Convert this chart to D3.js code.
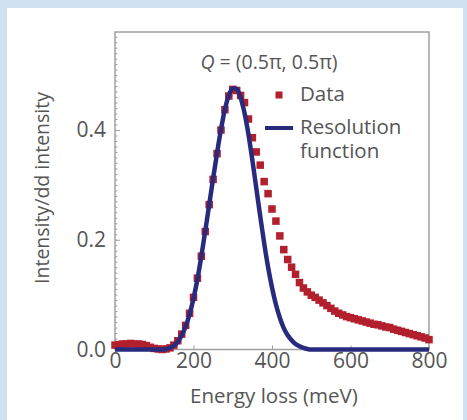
<!DOCTYPE html>
<html>
<head>
<meta charset="utf-8">
<script src="https://cdn.jsdelivr.net/npm/d3@7"></script>
<style>
  html, body { margin: 0; padding: 0; background: #cfe0f0; }
  svg { display: block; }
  text { font-family: "Open Sans", "DejaVu Sans", sans-serif; fill: #555; }
</style>
</head>
<body>
<svg id="chart" width="467" height="420"></svg>
<script>
// ---------------- data ----------------
const energy = [0,10,20,30,40,50,60,70,80,90,100,110,120,130,140,150,160,170,180,190,
  200,210,220,230,240,250,260,270,280,290,300,310,320,330,340,350,360,370,380,390,
  400,410,420,430,440,450,460,470,480,490,500,510,520,530,540,550,560,570,580,590,
  600,610,620,630,640,650,660,670,680,690,700,710,720,730,740,750,760,770,780,790,800];

const dataIntensity = [0.008,0.009,0.010,0.010,0.011,0.010,0.010,0.009,0.007,0.004,
  0.002,0.001,0.000,0.001,0.003,0.008,0.016,0.028,0.044,0.066,
  0.095,0.130,0.170,0.215,0.264,0.310,0.357,0.400,0.437,0.462,
  0.474,0.472,0.463,0.450,0.420,0.386,0.360,0.336,0.306,0.284,
  0.256,0.234,0.207,0.182,0.164,0.150,0.137,0.122,0.112,0.105,
  0.099,0.095,0.090,0.085,0.080,0.075,0.070,0.066,0.063,0.060,
  0.058,0.056,0.054,0.052,0.050,0.048,0.046,0.045,0.043,0.041,
  0.040,0.037,0.035,0.033,0.031,0.029,0.027,0.025,0.023,0.021,0.018];

const resolution = [0,0,0,0,0,0,0,0,0,0,
  0,0,0,0.001,0.003,0.007,0.014,0.026,0.042,0.064,
  0.093,0.128,0.170,0.216,0.264,0.312,0.358,0.401,0.438,0.463,
  0.476,0.475,0.459,0.431,0.392,0.345,0.294,0.243,0.194,0.150,
  0.113,0.082,0.058,0.039,0.026,0.017,0.010,0.006,0.003,0.001,
  0,0,0,0,0,0,0,0,0,0,
  0,0,0,0,0,0,0,0,0,0,
  0,0,0,0,0,0,0,0,0,0,0];

const xTicks = [0, 200, 400, 600, 800];
const yTicks = [0, 0.2, 0.4];
const legendLabels = ["Data", "Resolution", "function"];

// ---------------- layout ----------------
const svg = d3.select("#chart");
const colRed = "#b21f2d", colBlue = "#272a7d", colAxis = "#a0a0a0";

// white panel
svg.append("rect").attr("x", 7).attr("y", 8).attr("width", 456).attr("height", 412).attr("fill", "#ffffff");

const x = d3.scaleLinear().domain([0, 800]).range([115, 429]);
const y = d3.scaleLinear().domain([0, 0.5786]).range([349.5, 32]);

// minor ticks
svg.append("g").attr("transform", "translate(115,0)")
  .call(d3.axisLeft(y).tickValues(d3.range(0.01, 0.575, 0.01)).tickSize(-2.5).tickFormat(""))
  .call(g => g.select(".domain").remove())
  .call(g => g.selectAll("line").attr("stroke", colAxis));

// frame
svg.append("rect").attr("x", 115).attr("y", 32).attr("width", 314).attr("height", 317.5)
  .attr("fill", "none").attr("stroke", colAxis).attr("stroke-width", 1.5);

// axes
const yAxis = svg.append("g").attr("transform", "translate(115,0)")
  .call(d3.axisLeft(y).tickValues(yTicks).tickFormat(d3.format(".1f")).tickSizeInner(-5).tickSizeOuter(0).tickPadding(9));
yAxis.select(".domain").remove();
yAxis.selectAll("line").attr("stroke", colAxis);
yAxis.selectAll("text").attr("font-size", 21).attr("fill", "#555")
  .style("font-family", "'Open Sans', sans-serif");

const xAxis = svg.append("g").attr("transform", "translate(0,349.5)")
  .call(d3.axisBottom(x).tickValues(xTicks).tickFormat(d3.format("d")).tickSizeInner(-4).tickSizeOuter(0).tickPadding(4));
xAxis.select(".domain").remove();
xAxis.selectAll("line").attr("stroke", colAxis);
xAxis.selectAll("text").attr("font-size", 21).attr("fill", "#555")
  .style("font-family", "'Open Sans', sans-serif");

// data squares
const pts = energy.map((e, i) => ({e, v: dataIntensity[i], r: resolution[i]}));
const sq = 7.5;
svg.append("g").selectAll("rect").data(pts).join("rect")
  .attr("x", d => x(d.e) - sq / 2).attr("y", d => y(d.v) - sq / 2)
  .attr("width", sq).attr("height", sq).attr("fill", colRed);

// resolution line
const line = d3.line().x(d => x(d.e)).y(d => y(d.r)).curve(d3.curveMonotoneX);
svg.append("path").datum(pts).attr("d", line)
  .attr("fill", "none").attr("stroke", colBlue).attr("stroke-width", 4.5);

// annotation
const ann = svg.append("text").attr("x", 269).attr("y", 69).attr("text-anchor", "middle").attr("font-size", 19.5);
ann.append("tspan").attr("font-style", "italic").text("Q");
ann.append("tspan").text(" = (0.5π, 0.5π)");

// legend
svg.append("rect").attr("x", 279 - 3.5).attr("y", 95 - 3.5).attr("width", 7).attr("height", 7).attr("fill", colRed);
svg.append("line").attr("x1", 265).attr("x2", 293).attr("y1", 128).attr("y2", 128)
  .attr("stroke", colBlue).attr("stroke-width", 4);
svg.append("text").attr("x", 300).attr("y", 101).attr("font-size", 20.5).text(legendLabels[0]);
svg.append("text").attr("x", 300).attr("y", 134).attr("font-size", 20.5).text(legendLabels[1]);
svg.append("text").attr("x", 300).attr("y", 158).attr("font-size", 20.5).text(legendLabels[2]);

// axis titles
svg.append("text").attr("x", 274).attr("y", 403).attr("text-anchor", "middle").attr("font-size", 20.5)
  .text("Energy loss (meV)");
svg.append("text").attr("transform", "translate(49,188) rotate(-90)").attr("text-anchor", "middle")
  .attr("font-size", 19.5).text("Intensity/dd intensity");
</script>
</body>
</html>
